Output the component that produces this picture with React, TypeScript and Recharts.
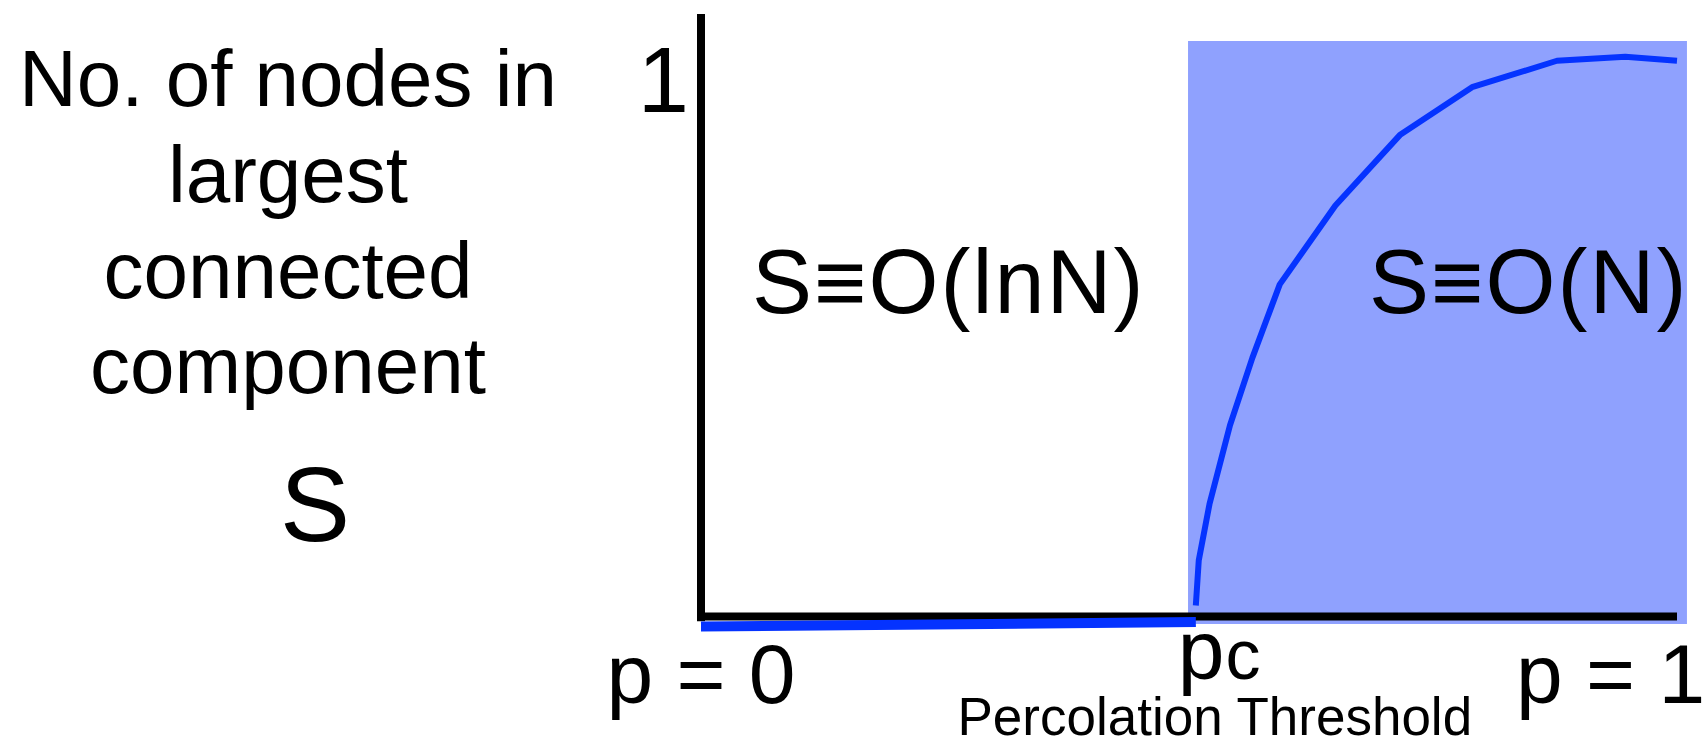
import React from "react";
import {
  LineChart,
  Line,
  XAxis,
  YAxis,
  ReferenceArea,
  ReferenceLine,
} from "recharts";

// ---- data ----
const P_C = 0.507;

// sub-critical branch (S ~ O(ln N), drawn just under the axis)
const lowP = [0, P_C];
const lowS = [-0.0174, -0.0094];

// super-critical branch (S ~ O(N))
const curveP = [0.507, 0.51, 0.521, 0.542, 0.565, 0.593, 0.65, 0.716, 0.79, 0.877, 0.947, 1.0];
const curveS = [0.02, 0.1, 0.2, 0.34, 0.46, 0.59, 0.73, 0.855, 0.94, 0.987, 0.994, 0.987];

const xTicks = [0, P_C, 1];
const xTickLabels = ["p = 0", "p", "p = 1"];
const yTicks = [1];
const yTickLabels = ["1"];

const yTitleLines = ["No. of nodes in", "largest", "connected", "component"];
const yTitleSymbol = "S";
const regionLeftLabel = "S≡O(lnN)";
const regionRightLabel = "S≡O(N)";
const thresholdSub = "c";
const thresholdCaption = "Percolation Threshold";

const lowData = lowP.map((p, i) => ({ p, s: lowS[i] }));
const curveData = curveP.map((p, i) => ({ p, s: curveS[i] }));

const FONT = "'Liberation Sans', Arial, Helvetica, sans-serif";
const BLUE = "#0533FF";
const SHADE = "#8FA1FE";

const XTick = (props: any) => {
  const { x, payload } = props;
  const idx = xTicks.indexOf(payload.value);
  if (idx === 0) {
    return (
      <text x={x} y={703} textAnchor="middle" fontSize={84} fontFamily={FONT} fill="#000">
        {xTickLabels[0]}
      </text>
    );
  }
  if (idx === 1) {
    return (
      <g>
        <text x={x - 18} y={679} textAnchor="start" fontFamily={FONT} fill="#000">
          <tspan fontSize={84}>{xTickLabels[1]}</tspan>
          <tspan fontSize={70} dx={1}>{thresholdSub}</tspan>
        </text>
        <text x={x + 19} y={735} textAnchor="middle" fontSize={53} fontFamily={FONT} fill="#000">
          {thresholdCaption}
        </text>
      </g>
    );
  }
  return (
    <text x={x - 161} y={703} textAnchor="start" fontSize={84} fontFamily={FONT} fill="#000">
      {xTickLabels[2]}
    </text>
  );
};

const YTick = (props: any) => {
  const { y, payload } = props;
  const idx = yTicks.indexOf(payload.value);
  return (
    <text x={689} y={y + 59} textAnchor="end" fontSize={92} fontFamily={FONT} fill="#000">
      {yTickLabels[idx]}
    </text>
  );
};

export default function App() {
  return (
    <div style={{ position: "absolute", left: 0, top: 0, width: 1705, height: 745, background: "#fff" }}>
      <LineChart
        width={1705}
        height={745}
        margin={{ top: 14, right: 28, bottom: 87, left: 641 }}
      >
        <XAxis
          dataKey="p"
          type="number"
          domain={[0, 1]}
          ticks={xTicks}
          tick={<XTick />}
          axisLine={false}
          tickLine={false}
          height={30}
          interval={0}
        />
        <YAxis
          dataKey="s"
          type="number"
          domain={[-0.02, 1.07]}
          ticks={yTicks}
          tick={<YTick />}
          axisLine={false}
          tickLine={false}
          width={60}
          interval={0}
        />
        <ReferenceArea
          x1={0.499}
          x2={1.0102}
          y1={-0.013}
          y2={1.022}
          fill={SHADE}
          fillOpacity={1}
          stroke="none"
          ifOverflow="visible"
          zIndex={50}
        />
        <ReferenceLine
          segment={[{ x: 0, y: -0.008 }, { x: 0, y: 1.07 }]}
          stroke="#000"
          strokeWidth={8}
          ifOverflow="visible"
          zIndex={300}
        />
        <ReferenceLine
          segment={[{ x: -0.004, y: 0.0005 }, { x: 1, y: 0.0005 }]}
          stroke="#000"
          strokeWidth={8}
          ifOverflow="visible"
          zIndex={300}
        />
        <Line
          data={lowData}
          dataKey="s"
          type="linear"
          stroke={BLUE}
          strokeWidth={10}
          dot={false}
          activeDot={false}
          isAnimationActive={false}
        />
        <Line
          data={curveData}
          dataKey="s"
          type="linear"
          stroke={BLUE}
          strokeWidth={6}
          strokeLinejoin="round"
          dot={false}
          activeDot={false}
          isAnimationActive={false}
        />
      </LineChart>
      <svg
        width={1705}
        height={745}
        style={{ position: "absolute", left: 0, top: 0, pointerEvents: "none" }}
      >
        {yTitleLines.map((t, i) => (
          <text
            key={t}
            x={288}
            y={[106, 202, 298, 393][i]}
            textAnchor="middle"
            fontSize={80}
            fontFamily={FONT}
            fill="#000"
          >
            {t}
          </text>
        ))}
        <text x={315} y={541} textAnchor="middle" fontSize={105} fontFamily={FONT} fill="#000">
          {yTitleSymbol}
        </text>
        <text x={752} y={313} textAnchor="start" fontSize={90} letterSpacing={2} fontFamily={FONT} fill="#000">
          {regionLeftLabel}
        </text>
        <text x={1369} y={313} textAnchor="start" fontSize={90} letterSpacing={2} fontFamily={FONT} fill="#000">
          {regionRightLabel}
        </text>
      </svg>
    </div>
  );
}
